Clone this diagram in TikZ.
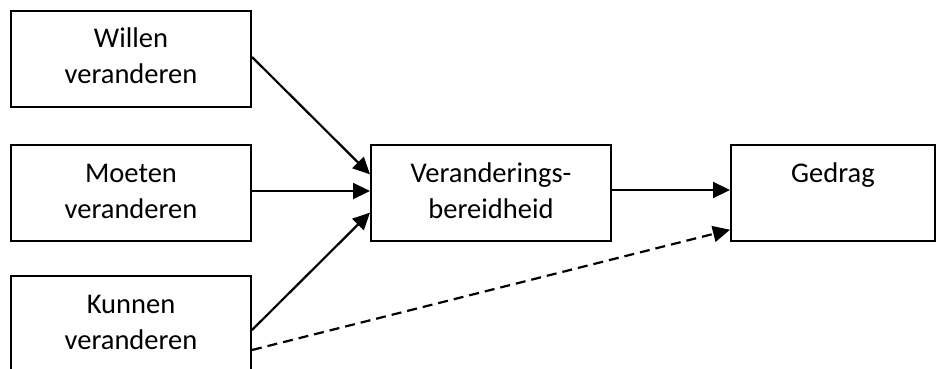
\documentclass[tikz,border=0pt]{standalone}
\usepackage{fontspec}
\setmainfont{Carlito}
\usetikzlibrary{arrows.meta,calc}
\begin{document}
\begin{tikzpicture}[x=1pt,y=-1pt,
  box/.style={draw,line width=2pt,minimum width=240pt,minimum height=96pt,inner sep=0pt},
  lbl/.style={align=center,font=\fontsize{28.5}{36}\selectfont,inner sep=0pt,anchor=base},
  conn/.style={line width=2.2pt,-{Triangle[length=17pt,width=16pt]}},
  dconn/.style={conn,dash pattern=on 10pt off 6pt}]
\useasboundingbox (0,0) rectangle (937,369);
\clip (0,0) rectangle (937,369);
\node[box] (w) at (131,59) {};
\node[box] (m) at (131,193) {};
\node[box] (k) at (131,324) {};
\node[box] (v) at (491,193) {};
\node[box,minimum width=204pt] (g) at (833,193) {};
\node[lbl] (wt) at ([yshift=-74pt]w.north) {Willen\\veranderen};
\node[lbl] (mt) at ([yshift=-74pt]m.north) {Moeten\\veranderen};
\node[lbl] (kt) at ([yshift=-74pt]k.north) {Kunnen\\veranderen};
\node[lbl] (vt) at ([yshift=-74pt]v.north) {Veranderings-\\bereidheid};
\node[lbl] (gt) at ([yshift=-38pt]g.north) {Gedrag};
\draw[conn] ([yshift=2pt]w.east) -- ($(v.north west)!0.31!(v.south west)$);
\draw[conn] ([yshift=2pt]m.east) -- ([yshift=2pt]v.west);
\draw[conn] ([yshift=-55pt]k.north east) -- ($(v.north west)!0.70!(v.south west)$);
\draw[conn] ([yshift=3pt]v.east) -- ([yshift=3pt]g.west);
\draw[dconn] ([yshift=-75pt]k.north east) -- ($(g.north west)!0.875!(g.south west)$);
\end{tikzpicture}
\end{document}
